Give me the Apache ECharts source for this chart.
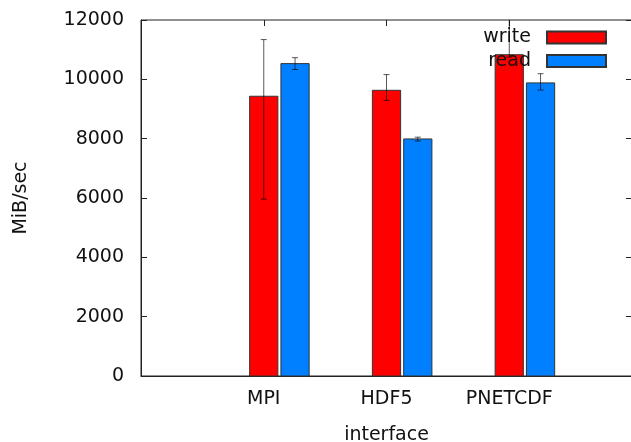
<!DOCTYPE html>
<html>
<head>
<meta charset="utf-8">
<script src="https://cdn.jsdelivr.net/npm/echarts@6/dist/echarts.min.js"></script>
<style>
  html, body { margin: 0; padding: 0; background: #fff; }
  #chart { width: 631px; height: 442px; }
</style>
</head>
<body>
<div id="chart"></div>
<script>
var categories = ['MPI', 'HDF5', 'PNETCDF'];
var writeMean = [9430, 9630, 10830];
var writeLow = [5960, 9290, 10750];
var writeHigh = [11340, 10160, 12400];
var readMean = [10530, 7990, 9880];
var readLow = [10330, 7920, 9640];
var readHigh = [10730, 8050, 10190];
var yTicks = [0, 2000, 4000, 6000, 8000, 10000, 12000];

var font = 'DejaVu Sans';
var fs = 19;
var barW = 0.23;
var readShift = 0.255;
var yMax = yTicks[yTicks.length - 1];

function barData(vals) {
	return vals.map(function(v, i) { return [i, v]; });
}

// error bars of both series in one list: [x shift, category, low, high]
var errList = [];
writeMean.forEach(function(v, i) { errList.push([0, i, writeLow[i], writeHigh[i]]); });
readMean.forEach(function(v, i) { errList.push([readShift, i, readLow[i], readHigh[i]]); });

// bars, shifted by offset (in x units) from the category centre
function barRender(offset) {
	return function(params, api) {
		var x = api.value(0) + offset;
		var top = api.coord([x, api.value(1)]);
		var base = api.coord([x, 0]);
		var w = api.size([barW, 0])[0];
		return {
			type: 'rect',
			shape: { x: top[0] - w / 2, y: top[1], width: w, height: base[1] - top[1] },
			style: api.style()
		};
	};
}

function errRender(params, api) {
	var x = api.value(1) + api.value(0);
	var hiVal = api.value(3);
	var lo = api.coord([x, api.value(2)]);
	var hi = api.coord([x, Math.min(hiVal, yMax)]);
	var c = 3;
	var d = 'M' + lo[0] + ' ' + lo[1] + 'L' + hi[0] + ' ' + hi[1] +
		'M' + (lo[0] - c) + ' ' + lo[1] + 'L' + (lo[0] + c) + ' ' + lo[1];
	if (hiVal <= yMax) {
		d += 'M' + (hi[0] - c) + ' ' + hi[1] + 'L' + (hi[0] + c) + ' ' + hi[1];
	}
	return {
		type: 'path',
		shape: { pathData: d },
		style: { fill: null, stroke: 'rgba(0,0,0,0.65)', lineWidth: 1 }
	};
}

var tickStyle = { color: '#222' };
var textCol = '#111';

var myChart = echarts.init(document.getElementById('chart'), null, { renderer: 'canvas' });

var option = {
	animation: false,
	textStyle: { fontFamily: font },
	grid: {
		left: 141, top: 20, right: -1, bottom: 66,
		outerBoundsMode: 'none',
		containLabel: false,
		show: true, borderColor: '#222', borderWidth: 1
	},
	legend: {
		data: ['write', 'read'],
		orient: 'vertical',
		align: 'right',
		right: 19,
		top: 23,
		itemWidth: 59,
		itemHeight: 12,
		itemGap: 4.5,
		icon: 'rect',
		textStyle: {
			fontFamily: font, fontSize: fs, color: textCol,
			width: 50, align: 'right', lineHeight: 19,
			padding: [0, 11, 0, 0]
		}
	},
	xAxis: [{
		type: 'value',
		min: -1,
		max: 3,
		interval: 1,
		name: 'interface',
		nameLocation: 'middle',
		nameGap: 50,
		nameTextStyle: { fontFamily: font, fontSize: fs, color: textCol },
		axisLine: { onZero: false, lineStyle: { color: '#222' } },
		axisTick: { show: true, inside: true, length: 6, lineStyle: tickStyle },
		splitLine: { show: false },
		axisLabel: {
			margin: 14,
			fontFamily: font, fontSize: fs, color: textCol,
			formatter: function(v) { return categories[v] || ''; }
		}
	}, {
		// mirrored ticks on the top border
		type: 'value',
		position: 'top',
		min: -1,
		max: 3,
		interval: 1,
		axisLine: { show: false, onZero: false },
		axisTick: { show: true, inside: true, length: 6, lineStyle: tickStyle },
		axisLabel: { show: false },
		splitLine: { show: false }
	}],
	yAxis: [{
		type: 'value',
		min: yTicks[0],
		max: yMax,
		interval: 2000,
		name: 'MiB/sec',
		nameLocation: 'middle',
		nameGap: 110,
		nameTextStyle: { fontFamily: font, fontSize: fs, color: textCol },
		axisLine: { show: true, onZero: false, lineStyle: { color: '#222' } },
		axisTick: { show: true, inside: true, length: 6, lineStyle: tickStyle },
		splitLine: { show: false },
		axisLabel: {
			margin: 17, fontFamily: font, fontSize: fs, color: textCol,
			formatter: function(v) { return String(v); }
		}
	}, {
		// mirrored ticks on the right border
		type: 'value',
		position: 'right',
		min: yTicks[0],
		max: yMax,
		interval: 2000,
		axisLine: { show: false, onZero: false },
		axisTick: { show: true, inside: true, length: 6, lineStyle: tickStyle },
		axisLabel: { show: false },
		splitLine: { show: false }
	}],
	series: [
		{
			name: 'write',
			type: 'custom',
			renderItem: barRender(0),
			itemStyle: { color: '#ff0000', borderColor: '#333', borderWidth: 1 },
			encode: { x: 0, y: 1 },
			data: barData(writeMean),
			z: 2
		},
		{
			name: 'read',
			type: 'custom',
			renderItem: barRender(readShift),
			itemStyle: { color: '#0080ff', borderColor: '#333', borderWidth: 1 },
			encode: { x: 0, y: 1 },
			data: barData(readMean),
			z: 2
		},
		{
			type: 'custom',
			renderItem: errRender,
			encode: { x: 1, y: [2, 3] },
			data: errList,
			z: 3
		}
	]
};

myChart.setOption(option);
</script>
</body>
</html>
